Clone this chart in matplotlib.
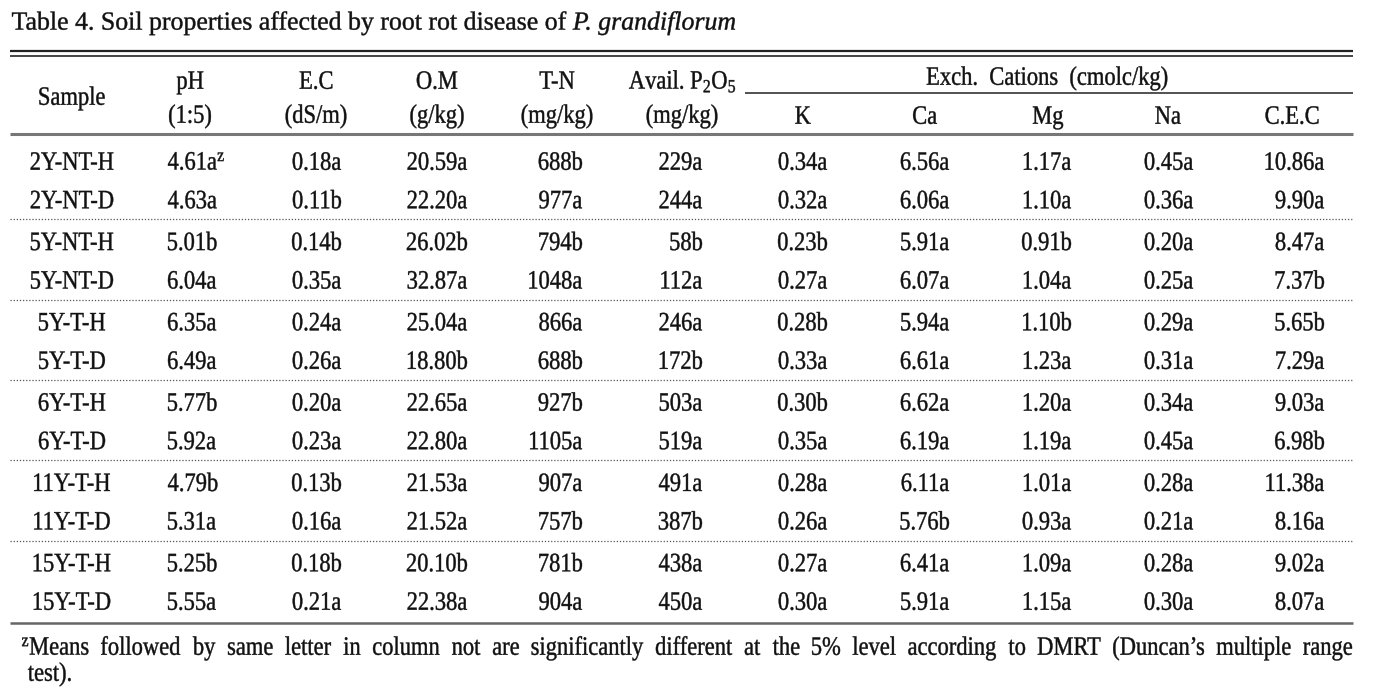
import matplotlib
matplotlib.use("Agg")
import matplotlib.pyplot as plt
from matplotlib.textpath import TextPath
from matplotlib.patches import PathPatch
from matplotlib.font_manager import FontProperties
from matplotlib.transforms import Affine2D

plt.rcParams['font.family'] = ['Liberation Serif', 'DejaVu Serif']
plt.rcParams['mathtext.fontset'] = 'custom'
plt.rcParams['mathtext.rm'] = 'Liberation Serif'
plt.rcParams['mathtext.it'] = 'Liberation Serif:italic'

title = "Table 4. Soil properties affected by root rot disease of"
title_it = "P. grandiflorum"
footnote = ("$^{\\mathrm{z}}$Means followed by same letter in column not are significantly different "
            "at the 5% level according to DMRT (Duncan\u2019s multiple range")
footnote2 = "test)."

samples = ["2Y-NT-H", "2Y-NT-D", "5Y-NT-H", "5Y-NT-D", "5Y-T-H", "5Y-T-D",
           "6Y-T-H", "6Y-T-D", "11Y-T-H", "11Y-T-D", "15Y-T-H", "15Y-T-D"]
ph = ["4.61a", "4.63a", "5.01b", "6.04a", "6.35a", "6.49a",
      "5.77b", "5.92a", "4.79b", "5.31a", "5.25b", "5.55a"]
ec = ["0.18a", "0.11b", "0.14b", "0.35a", "0.24a", "0.26a",
      "0.20a", "0.23a", "0.13b", "0.16a", "0.18b", "0.21a"]
om = ["20.59a", "22.20a", "26.02b", "32.87a", "25.04a", "18.80b",
      "22.65a", "22.80a", "21.53a", "21.52a", "20.10b", "22.38a"]
tn = ["688b", "977a", "794b", "1048a", "866a", "688b",
      "927b", "1105a", "907a", "757b", "781b", "904a"]
p2o5 = ["229a", "244a", "58b", "112a", "246a", "172b",
        "503a", "519a", "491a", "387b", "438a", "450a"]
k = ["0.34a", "0.32a", "0.23b", "0.27a", "0.28b", "0.33a",
     "0.30b", "0.35a", "0.28a", "0.26a", "0.27a", "0.30a"]
ca = ["6.56a", "6.06a", "5.91a", "6.07a", "5.94a", "6.61a",
      "6.62a", "6.19a", "6.11a", "5.76b", "6.41a", "5.91a"]
mg = ["1.17a", "1.10a", "0.91b", "1.04a", "1.10b", "1.23a",
      "1.20a", "1.19a", "1.01a", "0.93a", "1.09a", "1.15a"]
na = ["0.45a", "0.36a", "0.20a", "0.25a", "0.29a", "0.31a",
      "0.34a", "0.45a", "0.28a", "0.21a", "0.28a", "0.30a"]
cec = ["10.86a", "9.90a", "8.47a", "7.37b", "5.65b", "7.29a",
       "9.03a", "6.98b", "11.38a", "8.16a", "9.02a", "8.07a"]

head1 = ["pH", "E.C", "O.M", "T-N", "Avail. P$_2$O$_5$"]
head2 = ["(1:5)", "(dS/m)", "(g/kg)", "(mg/kg)", "(mg/kg)"]
cation_head = "Exch.  Cations  (cmolc/kg)"
cation_cols = ["K", "Ca", "Mg", "Na", "C.E.C"]

columns = [ph, ec, om, tn, p2o5, k, ca, mg, na, cec]
# header centres and value anchors (pixels)
col_centre = [190, 316, 437, 557, 682, 803, 925, 1048, 1168, 1292]
col_right = [None, 341, 467, 582, 702, 827, 949, 1071, 1193, 1324]
ph_left = 168

W, H = 1373, 696
fig = plt.figure(figsize=(W / 100, H / 100), dpi=100)
ax = fig.add_axes([0, 0, 1, 1])
ax.set_xlim(0, W)
ax.set_ylim(H, 0)
ax.axis("off")

REG = FontProperties(family="Liberation Serif")
ITA = FontProperties(family="Liberation Serif", style="italic")
EM = 26.5      # em size in pixels
SX = 0.85      # horizontal squeeze, the source face is a narrow one
INK = "#111111"


def path_of(s, em, prop):
    tp = TextPath((0, 0), s, size=em, prop=prop)
    return tp, tp.get_extents()


def ink_width(s, em=EM, sx=SX, prop=REG):
    return path_of(s, em, prop)[1].width * sx


def put(x, y, s, em=EM, sx=SX, ha="center", prop=REG, color=INK):
    tp, ext = path_of(s, em, prop)
    if ha == "center":
        dx = -(ext.x0 + ext.x1) / 2
    elif ha == "right":
        dx = -ext.x1
    else:
        dx = -ext.x0
    base = y + 0.331 * em  # y is the middle of the capitals
    tr = Affine2D().translate(dx, 0).scale(sx, -1).translate(x, base)
    ax.add_patch(PathPatch(tr.transform_path(tp), fc=color, ec=color, lw=0.3))
    return x + (ext.x1 + dx) * sx


# title, stretched to its width in the source
t_em = 26
w_plain = ink_width(title, t_em, 1.0)
w_space = 0.25 * t_em
w_it = ink_width(title_it, t_em, 1.0, ITA)
t_sx = (735 - 12) / (w_plain + w_space + w_it)
xe = put(12, 21, title, em=t_em, sx=t_sx, ha="left")
put(xe + w_space * t_sx, 21, title_it, em=t_em, sx=t_sx, ha="left", prop=ITA)

x0, x1 = 10, 1353
# rules
ax.plot([x0, x1], [51, 51], color="#222222", lw=1.6, solid_capstyle="butt")
ax.plot([x0, x1], [55.5, 55.5], color="#444444", lw=1.4, solid_capstyle="butt")
ax.plot([745, x1], [93, 93], color="#333333", lw=1.2, solid_capstyle="butt")
ax.plot([x0, x1], [134, 134], color="#777777", lw=2.2, solid_capstyle="butt")
ax.plot([x0, x1], [623, 623], color="#666666", lw=1.8, solid_capstyle="butt")

# header
put(72, 96, "Sample")
for i in range(5):
    put(col_centre[i], 80, head1[i])
    put(col_centre[i], 114, head2[i])
put(1047, 76, cation_head)
for i, name in enumerate(cation_cols):
    put(col_centre[5 + i], 115, name)

# body
row_y0, within, gap = 161, 38.5, 41.8
for j, s in enumerate(samples):
    y = row_y0 + (j // 2) * (within + gap) + (j % 2) * within
    put(72, y, s)
    for c, vals in enumerate(columns):
        txt = vals[j]
        if c == 0:
            if j == 0:
                txt = txt + "$^{\\mathrm{z}}$"
            put(ph_left, y, txt, ha="left")
        else:
            put(col_right[c], y, txt, ha="right")
    if j % 2 == 1 and j < len(samples) - 1:
        ys = y + gap / 2 - 1
        ax.plot([x0, x1], [ys, ys], color="#555555", lw=0.9, ls=(0, (1, 1.5)))

# footnote, first line justified
words = footnote.split(" ")
widths = [ink_width(w_) for w_ in words]
fx0, fx1 = 22, 1352
step = (fx1 - fx0 - sum(widths)) / (len(words) - 1)
x = fx0
for w_, wd in zip(words, widths):
    put(x, 646, w_, ha="left")
    x += wd + step
put(28, 672, footnote2, ha="left")

fig.savefig("out.png", dpi=100)
